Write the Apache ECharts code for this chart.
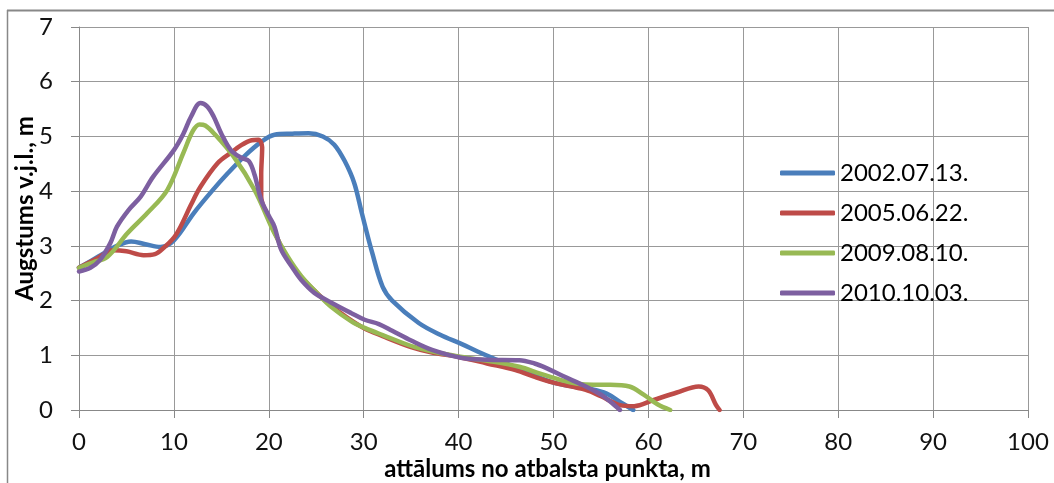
<!DOCTYPE html>
<html><head><meta charset="utf-8">
<script src="https://cdn.jsdelivr.net/npm/echarts@6/dist/echarts.min.js"></script>
<style>html,body{margin:0;padding:0;background:#fff}#c{width:1054px;height:483px}</style>
</head><body><div id="c"></div>
<script>
var seriesNames = ['2002.07.13.', '2005.06.22.', '2009.08.10.', '2010.10.03.'];
var xTicks = [0,10,20,30,40,50,60,70,80,90,100];
var yTicks = [0,1,2,3,4,5,6,7];
var s2002 = [[0,2.6],[2,2.8],[4,3.0],[5.5,3.08],[7,3.03],[8.6,2.98],[10,3.1],[12.1,3.6],[14,4.0],[15.7,4.33],[17.5,4.65],[19.2,4.9],[20.6,5.03],[22.5,5.05],[24.2,5.06],[25.7,5.0],[26.9,4.85],[28,4.55],[29,4.15],[29.8,3.6],[30.9,2.87],[32,2.25],[33,2.0],[35.8,1.59],[38,1.38],[40.4,1.2],[42,1.07],[43.6,0.95],[46,0.78],[48,0.63],[50,0.5],[52,0.43],[54,0.38],[55.6,0.3],[57,0.15],[58.4,0]];
var s2005 = [[0,2.6],[2,2.78],[3.6,2.92],[5,2.9],[6.8,2.83],[8,2.85],[8.9,2.96],[10,3.15],[10.7,3.35],[11.8,3.75],[12.8,4.08],[14.6,4.51],[16,4.7],[17.1,4.84],[18.2,4.93],[18.9,4.94],[19.3,4.8],[19.2,4.3],[19.2,3.9],[20,3.5],[21,3.1],[22,2.75],[23.4,2.43],[25,2.15],[26.6,1.9],[28,1.72],[30,1.5],[32,1.35],[35,1.15],[37.2,1.05],[40,0.97],[43,0.85],[46,0.73],[48.1,0.6],[50,0.5],[53.4,0.37],[55,0.25],[57,0.09],[58.5,0.07],[60.5,0.18],[63,0.32],[65.3,0.43],[66.3,0.36],[67.1,0.1],[67.5,0]];
var s2009 = [[0,2.6],[1.5,2.7],[3,2.8],[5.1,3.23],[7.2,3.6],[9.3,4.02],[11,4.7],[12,5.1],[12.7,5.22],[13.3,5.2],[14.2,5.06],[16.3,4.63],[18.5,4.02],[20.6,3.23],[22,2.8],[23.4,2.45],[25,2.15],[26.6,1.88],[28.7,1.62],[30.1,1.5],[32,1.37],[35.4,1.15],[39.3,1.0],[43,0.9],[46.4,0.79],[48.5,0.67],[50.7,0.55],[52.5,0.48],[54.2,0.46],[56,0.46],[58,0.43],[59.5,0.28],[61,0.1],[62.3,0]];
var s2010 = [[0,2.53],[1.2,2.6],[2.2,2.74],[3.3,3.05],[4,3.35],[5.2,3.65],[6.5,3.9],[7.8,4.26],[10,4.75],[11,5.05],[11.8,5.36],[12.8,5.61],[13.5,5.55],[14.2,5.36],[15,5.05],[16,4.75],[17.1,4.61],[17.9,4.55],[18.5,4.3],[19.2,3.84],[20,3.55],[20.6,3.35],[21.3,2.93],[22.5,2.6],[23.4,2.38],[24.8,2.14],[26.5,1.97],[28.7,1.77],[30.1,1.65],[31.6,1.57],[33,1.45],[35,1.27],[37.2,1.1],[40.4,0.95],[43,0.92],[46.4,0.91],[48,0.85],[49.2,0.77],[51,0.62],[53.4,0.43],[55,0.28],[56,0.15],[57,0]];
var colors = ['#4A7EBB', '#BE4B48', '#98B954', '#7D5FA0'];
var allData = [s2002, s2005, s2009, s2010];

var chart = echarts.init(document.getElementById('c'), null, {renderer: 'canvas'});
var font = 'Lato, "Open Sans", sans-serif';
chart.setOption({
  animation: false,
  color: colors,
  grid: {left: 79, right: 26, top: 27, bottom: 73, containLabel: false, outerBoundsMode: 'none'},
  xAxis: {
    type: 'value', min: xTicks[0], max: xTicks[xTicks.length-1], interval: 10,
    name: 'attālums no atbalsta punkta, m', nameLocation: 'middle', nameGap: 47, nameMoveOverlap: false,
    nameTextStyle: {fontFamily: font, fontWeight: 'bold', fontSize: 24, color: '#000', padding: [0, 12, 0, 0]},
    axisLine: {show: true, lineStyle: {color: '#888', width: 1}},
    axisTick: {show: true, length: 8, lineStyle: {color: '#888'}},
    axisLabel: {fontFamily: font, fontSize: 24, color: '#111', margin: 20},
    splitLine: {show: true, lineStyle: {color: '#999', width: 1}}
  },
  yAxis: {
    type: 'value', min: yTicks[0], max: yTicks[yTicks.length-1], interval: 1,
    name: 'Augstums v.j.l., m', nameLocation: 'middle', nameGap: 42, nameRotate: 90, nameMoveOverlap: false,
    nameTextStyle: {fontFamily: font, fontWeight: 'bold', fontSize: 24, color: '#000', padding: [0, 0, 0, 20]},
    axisLine: {show: true, lineStyle: {color: '#888', width: 1}},
    axisTick: {show: true, length: 8, lineStyle: {color: '#888'}},
    axisLabel: {fontFamily: font, fontSize: 24, color: '#111', margin: 26},
    splitLine: {show: true, lineStyle: {color: '#999', width: 1}}
  },
  legend: {
    orient: 'vertical', left: 775, top: 156, itemWidth: 55, itemHeight: 5, itemGap: 16,
    icon: 'roundRect',
    textStyle: {fontFamily: font, fontSize: 24, color: '#000', lineHeight: 24},
    data: seriesNames
  },
  graphic: [
    {type: 'line', shape: {x1: 7, y1: 10.5, x2: 1054, y2: 10.5}, style: {stroke: '#888', lineWidth: 2}},
    {type: 'line', shape: {x1: 7.5, y1: 10, x2: 7.5, y2: 483}, style: {stroke: '#888', lineWidth: 1.5}}
  ],
  series: allData.map(function (d, i) {
    return {
      name: seriesNames[i], type: 'line', data: d, smooth: 0.35, symbol: 'none',
      lineStyle: {width: 4.5, color: colors[i], cap: 'round', join: 'round'},
      itemStyle: {color: colors[i]}
    };
  })
});
</script></body></html>
